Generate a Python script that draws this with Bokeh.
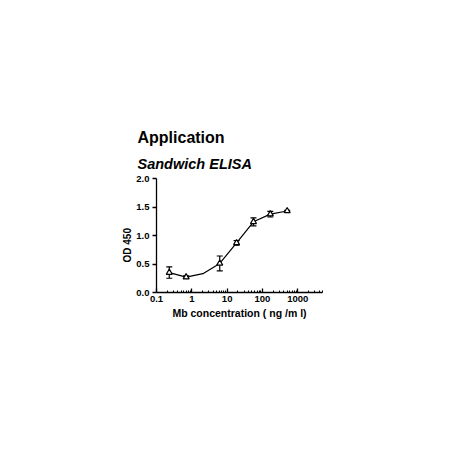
from bokeh.plotting import figure
from bokeh.models import FixedTicker, Whisker, ColumnDataSource, Range1d, Title
from bokeh.embed import file_html
from bokeh.resources import INLINE

# data (Mb concentration ng/ml, OD450)
conc = [0.23, 0.69, 6.17, 18.5, 55.6, 166.7, 500.0]
od = [0.35, 0.27, 0.51, 0.87, 1.24, 1.375, 1.43]
err = [0.10, 0.02, 0.13, 0.04, 0.07, 0.05, 0.01]
curve_x = [0.23, 0.69, 2.06, 6.17, 18.5, 55.6, 166.7, 500.0]
curve_y = [0.35, 0.27, 0.33, 0.51, 0.87, 1.24, 1.375, 1.43]

x_ticks = [0.1, 1, 10, 100, 1000]
x_tick_labels = ["0.1", "1", "10", "100", "1000"]
y_ticks = [0.0, 0.5, 1.0, 1.5, 2.0]
y_tick_labels = ["0.0", "0.5", "1.0", "1.5", "2.0"]

title_text = "Application"
subtitle_text = "Sandwich ELISA"
x_label = "Mb concentration ( ng /m l)"
y_label = "OD 450"

FONT = "Liberation Sans"

p = figure(width=442, height=442, x_axis_type="log", output_backend="svg",
           toolbar_location=None, x_range=Range1d(0.1, 5000), y_range=Range1d(0, 2.0),
           min_border_left=156, min_border_right=120, min_border_top=178, min_border_bottom=150)
p.title = None
p.outline_line_color = None
p.grid.visible = False
p.background_fill_color = "white"
p.border_fill_color = "white"

minor = []
for d in [0.1, 1, 10, 100, 1000]:
    for k in range(2, 10):
        v = d * k
        if v <= 5000:
            minor.append(v)

xa = p.xaxis[0]
xa.ticker = FixedTicker(ticks=x_ticks, minor_ticks=minor)
xa.major_label_overrides = {t: l for t, l in zip(x_ticks, x_tick_labels)}
xa.major_tick_in = 4
xa.major_tick_out = 0
xa.minor_tick_in = 2
xa.minor_tick_out = 0
xa.axis_label = x_label

ya = p.yaxis[0]
ya.ticker = FixedTicker(ticks=y_ticks, minor_ticks=[])
ya.major_label_overrides = {t: l for t, l in zip(y_ticks, y_tick_labels)}
ya.major_tick_in = 0
ya.major_tick_out = 4

for ax in (xa, ya):
    ax.axis_line_color = "black"
    ax.axis_line_width = 1.3
    ax.major_tick_line_color = "black"
    ax.major_tick_line_width = 1.3
    ax.major_label_text_font = FONT
    ax.major_label_text_font_style = "bold"
    ax.major_label_text_font_size = "9.5px"
    ax.major_label_text_color = "black"
    ax.axis_label_text_font = FONT
    ax.axis_label_text_font_style = "bold"
    ax.axis_label_text_color = "black"
    ax.major_label_standoff = 3
xa.minor_tick_line_color = "black"
ya.minor_tick_line_color = None
xa.axis_label_text_font_size = "10.5px"
xa.axis_label_standoff = 2

p.line(curve_x, curve_y, line_color="black", line_width=1.2)

src = ColumnDataSource(dict(x=conc, y=od,
                            lo=[o - e for o, e in zip(od, err)],
                            hi=[o + e for o, e in zip(od, err)]))
w = Whisker(source=src, base="x", lower="lo", upper="hi", line_color="black", line_width=1.2)
for h in (w.upper_head, w.lower_head):
    h.size = 6
    h.line_color = "black"
    h.line_width = 1.2
p.add_layout(w)

p.scatter("x", "y", source=src, marker="triangle", size=6, fill_color="white",
          line_color="black", line_width=1.2)

# y axis title (placed as a rotated left title so it can sit below centre)
ytitle = Title(text=y_label, align="left", offset=30, standoff=2,
               text_font=FONT, text_font_style="bold", text_font_size="10px",
               text_color="black")
p.add_layout(ytitle, "left")

sub = Title(text=subtitle_text, align="left", offset=-19, standoff=14,
            text_font=FONT, text_font_style="bold italic", text_font_size="14.5px",
            text_color="black")
main = Title(text=title_text, align="left", offset=-19, standoff=2,
             text_font=FONT, text_font_style="bold", text_font_size="16px",
             text_color="black")
p.add_layout(sub, "above")
p.add_layout(main, "above")

open("out.html", "w").write(file_html(p, INLINE))
